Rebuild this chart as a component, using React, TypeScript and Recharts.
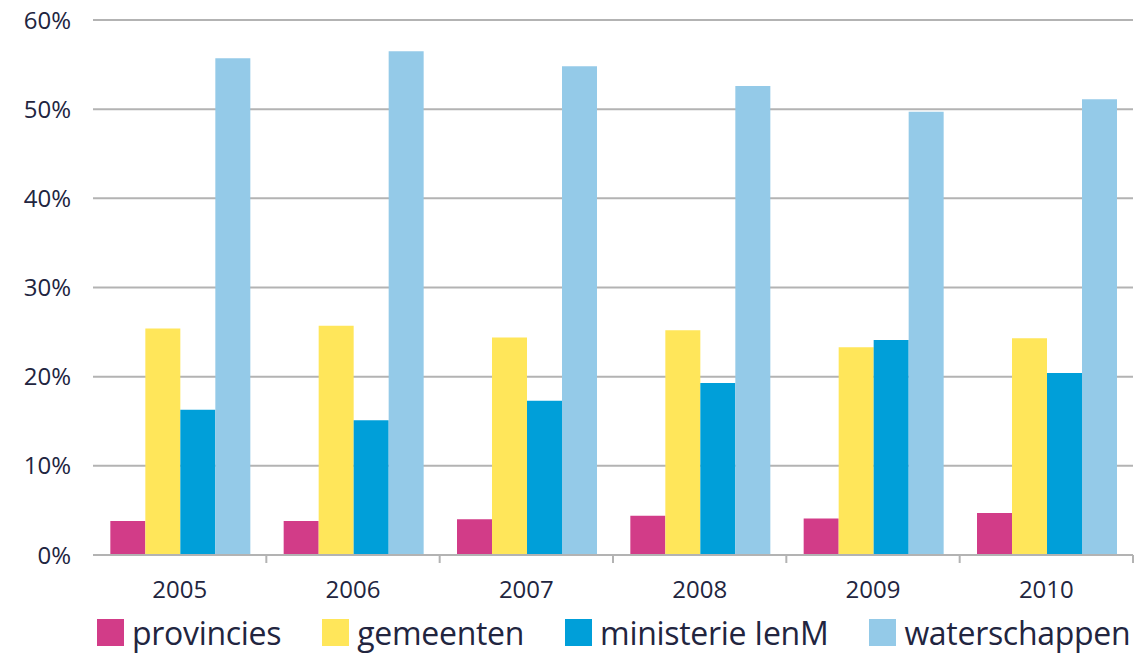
import React from "react";
import {
  BarChart,
  Bar,
  XAxis,
  YAxis,
  CartesianGrid,
  Legend,
} from "recharts";

const years = ["2005", "2006", "2007", "2008", "2009", "2010"];
const provincies = [3.8, 3.8, 4.0, 4.4, 4.1, 4.7];
const gemeenten = [25.4, 25.7, 24.4, 25.2, 23.3, 24.3];
const ministerie = [16.3, 15.1, 17.3, 19.3, 24.1, 20.4];
const waterschappen = [55.7, 56.5, 54.8, 52.6, 49.7, 51.1];
const yTicks = [0, 10, 20, 30, 40, 50, 60];

const series = [
  { key: "provincies", name: "provincies", color: "#D23C88" },
  { key: "gemeenten", name: "gemeenten", color: "#FFE65A" },
  { key: "ministerie", name: "ministerie IenM", color: "#009FD9" },
  { key: "waterschappen", name: "waterschappen", color: "#94CAE8" },
];
const seriesOrder = series.map((s) => s.name);

const data = years.map((year, i) => ({
  year,
  provincies: provincies[i],
  gemeenten: gemeenten[i],
  ministerie: ministerie[i],
  waterschappen: waterschappen[i],
}));

const FONT = "'Open Sans', sans-serif";
const TEXT = "#22253f";
const GRID = "#b3b3b3";

// year label plus a small tick on the right edge of each category
function YearTick(props: any) {
  const { x, y, payload } = props;
  const edge = x + (payload.offset || 0);
  return (
    <g>
      <line x1={edge} y1={y - 8} x2={edge} y2={y} stroke={GRID} strokeWidth={2} />
      <text
        x={x}
        y={y + 35}
        textAnchor="middle"
        fontSize={24}
        fill={TEXT}
        fontFamily={FONT}
      >
        {payload.value}
      </text>
    </g>
  );
}

function LegendRow(props: any) {
  const items = [...(props.payload || [])].sort(
    (a: any, b: any) => seriesOrder.indexOf(a.value) - seriesOrder.indexOf(b.value)
  );
  return (
    <div
      style={{
        display: "flex",
        alignItems: "center",
        paddingLeft: 97,
        gap: 41,
        height: 50,
        fontFamily: FONT,
        fontSize: 32,
        color: TEXT,
        letterSpacing: -0.3,
        whiteSpace: "nowrap",
      }}
    >
      {items.map((it: any) => (
        <div
          key={it.value}
          style={{ display: "flex", alignItems: "center", flexShrink: 0 }}
        >
          <span
            style={{
              display: "inline-block",
              width: 27,
              height: 27,
              background: it.color,
              marginRight: 8,
            }}
          />
          <span>{it.value}</span>
        </div>
      ))}
    </div>
  );
}

export default function App() {
  return (
    <div style={{ position: "fixed", left: 0, top: 0, background: "#fff" }}>
      <BarChart
        width={1137}
        height={660}
        data={data}
        margin={{ top: 20, right: 4, bottom: 0, left: 0 }}
        barCategoryGap="10%"
        barGap={0}
      >
        <CartesianGrid vertical={false} stroke={GRID} strokeWidth={2} />
        <XAxis
          dataKey="year"
          height={52}
          axisLine={{ stroke: GRID, strokeWidth: 2 }}
          tickLine={false}
          tick={<YearTick />}
          interval={0}
        />
        <YAxis
          width={93}
          domain={[0, 60]}
          ticks={yTicks}
          axisLine={false}
          tickLine={false}
          tickFormatter={(v) => `${v}%`}
          tick={{ fontSize: 24, fill: TEXT, fontFamily: FONT }}
          tickMargin={16}
        />
        <Legend verticalAlign="bottom" height={53} content={<LegendRow />} />
        {series.map((s) => (
          <Bar
            key={s.key}
            dataKey={s.key}
            name={s.name}
            fill={s.color}
            isAnimationActive={false}
          />
        ))}
      </BarChart>
    </div>
  );
}
